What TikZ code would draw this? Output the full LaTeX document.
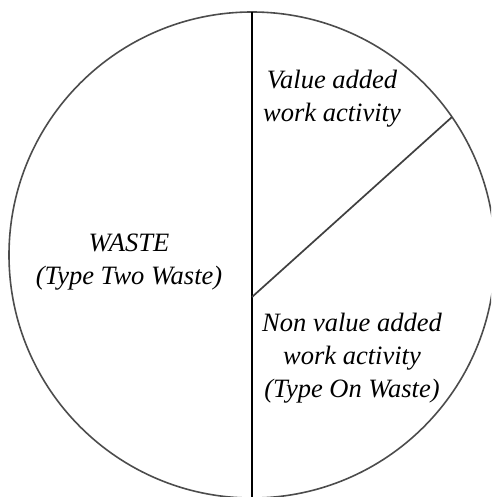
\documentclass[tikz,border=0pt]{standalone}
\usepackage{fontspec}
\setmainfont{Liberation Serif}
\tikzset{>=latex}

\begin{document}
\begin{tikzpicture}[x=1pt,y=-1pt,
    lbl/.style={font=\itshape\fontsize{26.5}{33}\selectfont, align=center, inner sep=0pt}]
                \useasboundingbox (0,0) rectangle (491,497);
                \clip (0,0) rectangle (491,497);
                \coordinate (o) at (252,255);
                \coordinate (top) at (252,12);
                \coordinate (bot) at (252,498);
                \coordinate (mid) at (252,297);
                \coordinate (rim) at (452,117);
                \draw[line width=1.6pt, black!70] (o) circle (243pt);
                \draw[line width=2pt] (top) -- (bot);
                \draw[line width=1.7pt, black!75] (mid) -- (rim);
                \node[lbl] (waste) at (129,262) {WASTE\\(Type Two Waste)};
                \node[lbl] (va) at (332,99) {Value added\\work activity};
                \node[lbl] (nva) at (352,358) {Non value added\\work activity\\(Type On Waste)};
            \end{tikzpicture}
\end{document}
